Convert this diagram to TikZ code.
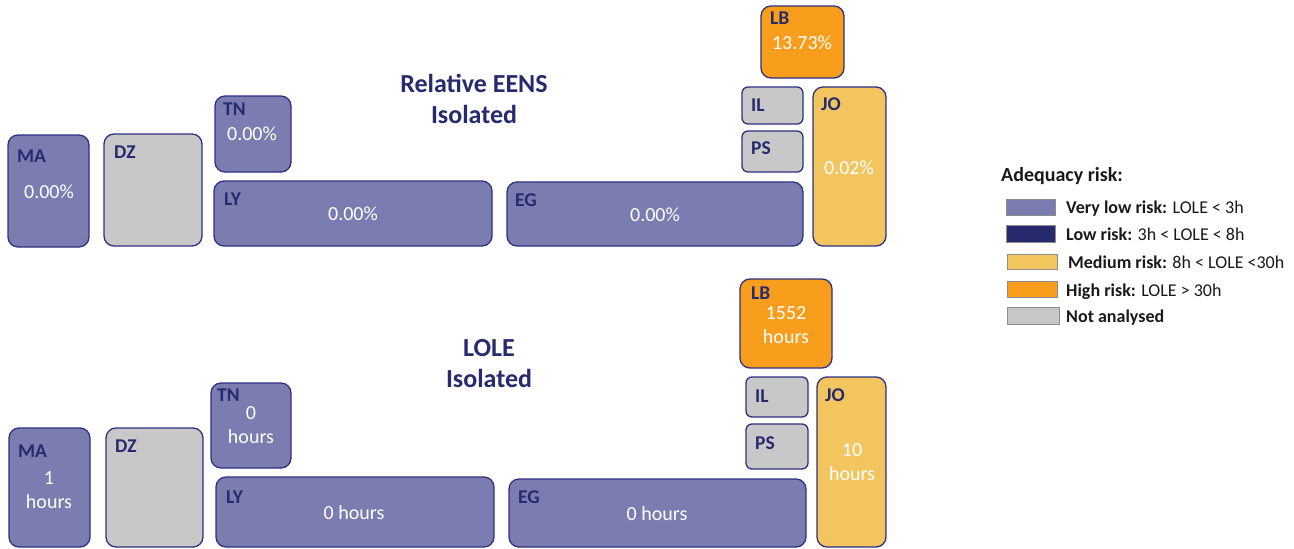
\documentclass[tikz,border=0pt]{standalone}
\usepackage{fontspec}
\setmainfont{Carlito}
\definecolor{vlow}{HTML}{7B7DB0}
\definecolor{lowc}{HTML}{272A6C}
\definecolor{medc}{HTML}{F2C55F}
\definecolor{highc}{HTML}{F99D1C}
\definecolor{nac}{HTML}{C8C8C8}
\definecolor{edgec}{HTML}{2E3182}
\definecolor{navy}{HTML}{262A6E}
\tikzset{
 cbase/.style={draw=edgec, line width=1.3pt, rounded corners=10pt, inner sep=0pt, outer sep=0pt, anchor=north west},
 vl/.style={cbase, fill=vlow},
 na/.style={cbase, fill=nac},
 md/.style={cbase, fill=medc},
 hi/.style={cbase, fill=highc},
 lab/.style={anchor=base west, inner sep=0pt, text=navy, font=\fontsize{19.5}{22}\selectfont\bfseries},
 val/.style={inner sep=0pt, text=white, font=\fontsize{20}{24}\selectfont, align=center},
 ttl/.style={inner sep=0pt, text=navy, font=\fontsize{26}{31}\selectfont\bfseries, align=center},
 sw/.style={draw=black!45, line width=0.8pt, anchor=north west, inner sep=0pt, outer sep=0pt},
 lg/.style={anchor=base west, inner sep=0pt, font=\fontsize{18}{20}\selectfont, text=black!90},
}
\newcommand\cbox[6]{\node[#1, minimum width={#5pt-#3pt}, minimum height={#6pt-#4pt}] (#2) at (#3,#4) {};}
\begin{document}
\begin{tikzpicture}[x=1pt,y=-1pt]
\useasboundingbox (0,0) rectangle (1294,549);
% ---------- top panel ----------
\cbox{vl}{ma1}{8}{135}{89}{247}
\cbox{na}{dz1}{104}{134}{202}{246}
\cbox{vl}{tn1}{215}{96}{291}{172}
\cbox{vl}{ly1}{214}{181}{492}{246}
\cbox{vl}{eg1}{507}{182}{803}{246}
\cbox{na,rounded corners=6pt}{il1}{742}{87}{803}{124}
\cbox{na,rounded corners=6pt}{ps1}{742}{131}{803}{172}
\cbox{hi}{lb1}{761}{6}{844}{78}
\cbox{md}{jo1}{813}{87}{886}{246}
\node[lab] (ma1l) at (17,162) {MA};
\node[lab] (dz1l) at (114,158) {DZ};
\node[lab] (tn1l) at (223,115) {TN};
\node[lab] (ly1l) at (224,205) {LY};
\node[lab] (eg1l) at (515,206) {EG};
\node[lab] (il1l) at (751,111.5) {IL};
\node[lab] (ps1l) at (751,154.5) {PS};
\node[lab] (lb1l) at (770,24) {LB};
\node[lab] (jo1l) at (821,110.5) {JO};
\node[val] (ma1v) at (49,192) {0.00\%};
\node[val] (tn1v) at (252,134) {0.00\%};
\node[val] (ly1v) at (353,214) {0.00\%};
\node[val] (eg1v) at (655,215) {0.00\%};
\node[val] (lb1v) at (802,43) {13.73\%};
\node[val] (jo1v) at (849,168) {0.02\%};
\node[ttl] (t1) at (474,98.5) {Relative EENS\\Isolated};
% ---------- bottom panel ----------
\cbox{vl}{ma2}{9}{428}{90}{547}
\cbox{na}{dz2}{106}{428}{203}{547}
\cbox{vl}{tn2}{211}{383}{291}{468}
\cbox{vl}{ly2}{216}{477}{494}{547}
\cbox{vl}{eg2}{509}{479}{806}{547}
\cbox{na,rounded corners=6pt}{il2}{746}{377}{808}{417}
\cbox{na,rounded corners=6pt}{ps2}{746}{424}{808}{469}
\cbox{hi}{lb2}{740}{279}{832}{368}
\cbox{md}{jo2}{817}{377}{886}{547}
\node[lab] (ma2l) at (18,457) {MA};
\node[lab] (dz2l) at (115,452) {DZ};
\node[lab] (tn2l) at (217,401) {TN};
\node[lab] (ly2l) at (226,503) {LY};
\node[lab] (eg2l) at (518,503) {EG};
\node[lab] (il2l) at (755,402) {IL};
\node[lab] (ps2l) at (755,449) {PS};
\node[lab] (lb2l) at (751,299) {LB};
\node[lab] (jo2l) at (825,401) {JO};
\node[val] (ma2v) at (49,490) {1\\hours};
\node[val] (tn2v) at (251,425.5) {0\\hours};
\node[val] (ly2v) at (354,513) {0 hours};
\node[val] (eg2v) at (657,514) {0 hours};
\node[val] (lb2v) at (786,325) {1552\\hours};
\node[val] (jo2v) at (852,462.5) {10\\hours};
\node[ttl] (t2) at (489,363.5) {LOLE\\Isolated};
% ---------- legend ----------
\node[lab, text=black!90, font=\fontsize{20}{22}\selectfont\bfseries] (lgt) at (1001,181.5) {Adequacy risk:};
\node[sw, fill=vlow, minimum width=49pt, minimum height=16pt] (s1) at (1006,199) {};
\node[sw, fill=lowc, minimum width=49pt, minimum height=17pt] (s2) at (1006,225) {};
\node[sw, fill=medc, minimum width=50pt, minimum height=15pt] (s3) at (1007,254) {};
\node[sw, fill=highc, minimum width=50pt, minimum height=16pt] (s4) at (1007,281) {};
\node[sw, fill=nac, minimum width=52pt, minimum height=17pt] (s5) at (1007,307) {};
\node[lg] (l1) at (1066,213) {\textbf{Very low risk:} LOLE < 3h};
\node[lg] (l2) at (1066,240) {\textbf{Low risk:} 3h < LOLE < 8h};
\node[lg] (l3) at (1068,268) {\textbf{Medium risk:} 8h < LOLE <30h};
\node[lg] (l4) at (1066,296) {\textbf{High risk:} LOLE > 30h};
\node[lg] (l5) at (1066,322) {\textbf{Not analysed}};
\end{tikzpicture}
\end{document}
